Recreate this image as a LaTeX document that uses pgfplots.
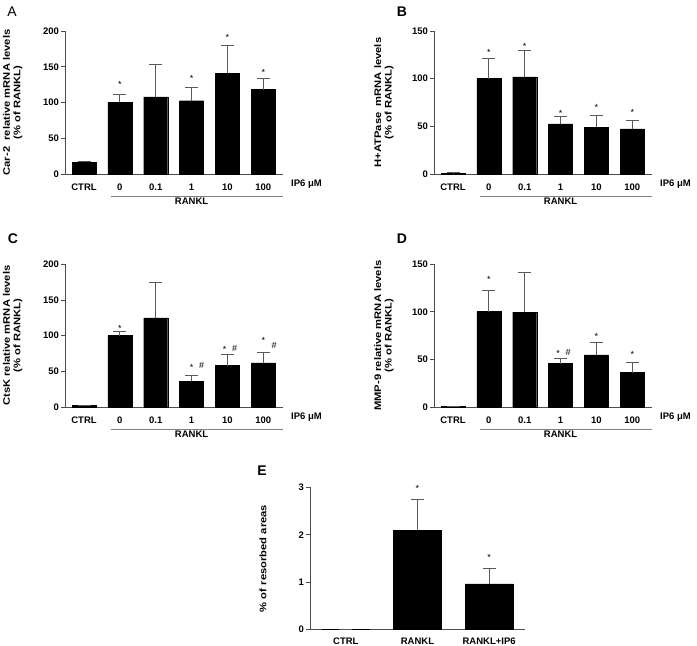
\documentclass[border=0pt]{standalone}
\usepackage{pgfplots}
\pgfplotsset{compat=1.18}
\usepackage{fontspec}
\setmainfont{Liberation Sans}
\newfontfamily\lblfamily{Liberation Sans}[FakeStretch=1.18]
\definecolor{axgray}{gray}{0.3}
\definecolor{errgray}{gray}{0.35}
\definecolor{linegray}{gray}{0.5}
\newcommand\tf{\fontsize{9.5}{11}\selectfont\bfseries}
\newcommand\lf{\lblfamily\fontsize{9.5}{10.5}\selectfont\bfseries}
\newcommand\stf{\fontsize{9}{10}\selectfont}
\pgfplotsset{
  panel/.style={
    scale only axis, width=218pt, height=143pt,
    axis x line*=bottom, axis y line*=left,
    axis line style={-, axgray, line width=0.8pt},
    xmin=-0.53, xmax=5.55, ymin=0,
    xtick={0,...,5}, xticklabels={CTRL,0,0.1,1,10,100},
    tick align=outside, major tick length=4pt,
    ytick style={axgray, line width=0.8pt},
    xtick style={draw=none},
    /pgf/number format/assume math mode=true,
    tick label style={font=\tf},
    xticklabel style={anchor=base, yshift=-13pt, inner sep=0pt},
    yticklabel style={xshift=1.5pt},
    every axis y label/.style={at={(axis description cs:-0.24,0.5)}, rotate=90, anchor=center, align=center, font=\lf},
    clip=false,
  },
  bars/.style={ybar, bar width=#1, fill=black, draw=black,
    error bars/.cd, y dir=plus, y explicit,
    error bar style={errgray, line width=0.8pt},
    error mark options={errgray, line width=0.8pt, mark size=6.5pt, rotate=90}},
  stars/.style={draw=none, mark=none, nodes near coords, point meta=explicit symbolic,
    every node near coord/.append style={font=\stf, inner sep=0pt, yshift=-5pt, text=black}},
  hashes/.style={draw=none, mark=none, nodes near coords, point meta=explicit symbolic,
    every node near coord/.append style={font=\stf, inner sep=0pt, yshift=-3.5pt, text=black}},
}
\newcommand\rankl{%
  \draw[linegray, line width=0.8pt] ([yshift=-22pt]axis cs:0.74,0) -- ([yshift=-22pt]axis cs:5.55,0);
  \node[anchor=base, font=\tf, inner sep=0pt] at ([yshift=-31pt]axis cs:3,0) {RANKL};
  \node[anchor=base west, font=\tf, inner sep=0pt] at ([xshift=8pt,yshift=-13pt]axis cs:5.55,0) {IP6 μM};
}
\begin{document}
\begin{tikzpicture}[x=1pt,y=1pt]
\useasboundingbox (0,0) rectangle (697,646);
% ---------- A ----------
\begin{axis}[panel, at={(65pt,472pt)}, anchor=south west, ymax=200, ytick={0,50,100,150,200},
  ylabel={Car-2\ \ relative mRNA levels\\(\% of RANKL)}]
\addplot[bars=24pt] coordinates {(0,16.5) +- (0,1.5) (1,100) +- (0,12) (2,108) +- (0,45.5) (3,102.5) +- (0,18.5) (4,141) +- (0,39) (5,118) +- (0,15.5)};
\addplot[stars] coordinates {(1,127)[*] (3,136)[*] (4,193)[*] (5,145)[*]};
\rankl
\end{axis}
% ---------- B ----------
\begin{axis}[panel, at={(434pt,472pt)}, anchor=south west, ymax=150, ytick={0,50,100,150},
  every axis y label/.append style={at={(axis description cs:-0.23,0.5)}},
  ylabel={H+ATPase\ \ mRNA levels\\(\% of RANKL)}]
\addplot[bars=24pt] coordinates {(0,1) +- (0,0.3) (1,100) +- (0,21) (2,102) +- (0,27.6) (3,52.7) +- (0,7.3) (4,48.8) +- (0,12.2) (5,47.4) +- (0,9.1)};
\addplot[stars] coordinates {(1,129)[*] (2,136)[*] (3,65.6)[*] (4,71.6)[*] (5,66)[*]};
\rankl
\end{axis}
% ---------- C ----------
\begin{axis}[panel, at={(65pt,239pt)}, anchor=south west, height=142.7pt, ymax=200, ytick={0,50,100,150,200},
  ylabel={CtsK relative mRNA levels\\(\% of RANKL)}]
\addplot[bars=24pt] coordinates {(0,2.3) +- (0,0.3) (1,100) +- (0,6.5) (2,124.8) +- (0,50.2) (3,36.4) +- (0,8) (4,58) +- (0,15.8) (5,62) +- (0,14.6)};
\addplot[stars] coordinates {(1,113)[*] (3,58)[*] (3.92,83)[*] (5,96)[*]};
\addplot[hashes] coordinates {(3.28,58)[\#] (4.2,82)[\#] (5.3,86)[\#]};
\rankl
\end{axis}
% ---------- D ----------
\begin{axis}[panel, at={(434pt,239pt)}, anchor=south west, height=142.7pt, ymax=150, ytick={0,50,100,150},
  every axis y label/.append style={at={(axis description cs:-0.23,0.5)}},
  ylabel={MMP-9 relative mRNA levels\\(\% of RANKL)}]
\addplot[bars=24pt] coordinates {(0,0.5) +- (0,0.2) (1,100.2) +- (0,22) (2,99.8) +- (0,42.2) (3,45.6) +- (0,5.7) (4,54.7) +- (0,12.9) (5,36.1) +- (0,11.2)};
\addplot[stars] coordinates {(1,136)[*] (2.93,58)[*] (4,75.7)[*] (5,57)[*]};
\addplot[hashes] coordinates {(3.21,58)[\#]};
\rankl
\end{axis}
% ---------- E ----------
\begin{axis}[panel, at={(310pt,16.3pt)}, anchor=south west, width=215pt, height=142.4pt,
  xmin=-0.5, xmax=2.5, ymax=3, ytick={0,1,2,3}, xtick={0,1,2}, xticklabels={CTRL,RANKL,RANKL+IP6},
  xticklabel style={yshift=2.5pt},
  every axis y label/.append style={at={(axis description cs:-0.219,0.5)}},
  ylabel={\% of resorbed areas}]
\addplot[bars=48pt] coordinates {(0,0) +- (0,0) (1,2.1) +- (0,0.64) (2,0.965) +- (0,0.325)};
\addplot[stars] coordinates {(1,3.01)[*] (2,1.55)[*]};
\end{axis}
% ---------- panel letters ----------
\node[font=\fontsize{14}{16}\selectfont] at (12,634) {A};
\node[font=\fontsize{14}{16}\selectfont\bfseries] at (402,634) {B};
\node[font=\fontsize{14}{16}\selectfont\bfseries] at (13,407) {C};
\node[font=\fontsize{14}{16}\selectfont\bfseries] at (402,407) {D};
\node[font=\fontsize{14}{16}\selectfont\bfseries] at (262,175.5) {E};
\end{tikzpicture}
\end{document}
